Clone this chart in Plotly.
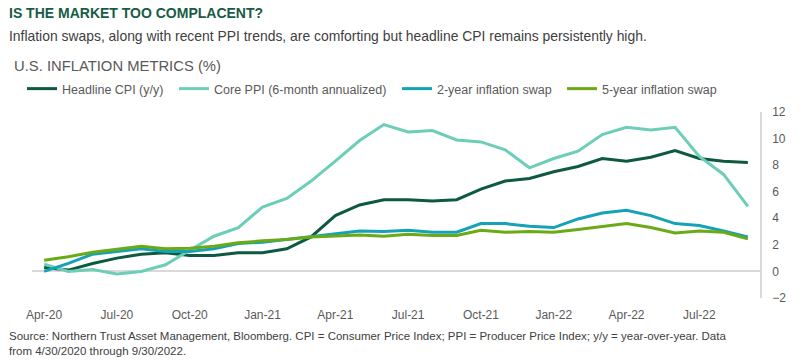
import plotly.graph_objects as go

months = ["Apr-20", "May-20", "Jun-20", "Jul-20", "Aug-20", "Sep-20", "Oct-20", "Nov-20", "Dec-20",
          "Jan-21", "Feb-21", "Mar-21", "Apr-21", "May-21", "Jun-21", "Jul-21", "Aug-21", "Sep-21",
          "Oct-21", "Nov-21", "Dec-21", "Jan-22", "Feb-22", "Mar-22", "Apr-22", "May-22", "Jun-22",
          "Jul-22", "Aug-22", "Sep-22"]

headline_cpi = [0.3, 0.1, 0.6, 1.0, 1.3, 1.4, 1.2, 1.2, 1.4, 1.4, 1.7, 2.6, 4.2, 5.0, 5.4, 5.4, 5.3, 5.4,
                6.2, 6.8, 7.0, 7.5, 7.9, 8.5, 8.3, 8.6, 9.1, 8.5, 8.3, 8.2]
core_ppi = [0.55, 0.0, 0.15, -0.2, 0.0, 0.5, 1.6, 2.65, 3.3, 4.85, 5.5, 6.8, 8.3, 9.85, 11.05, 10.5, 10.6,
            9.9, 9.75, 9.15, 7.8, 8.5, 9.05, 10.3, 10.85, 10.65, 10.85, 8.65, 7.3, 4.9]
swap_2y = [0.0, 0.6, 1.3, 1.5, 1.7, 1.5, 1.5, 1.7, 2.1, 2.2, 2.4, 2.65, 2.85, 3.05, 3.0, 3.1, 2.95, 2.95,
           3.6, 3.6, 3.4, 3.3, 3.95, 4.4, 4.6, 4.2, 3.6, 3.45, 3.05, 2.6]
swap_5y = [0.85, 1.1, 1.45, 1.7, 1.9, 1.7, 1.75, 1.9, 2.15, 2.3, 2.4, 2.6, 2.7, 2.75, 2.65, 2.8, 2.7, 2.7,
           3.1, 2.95, 3.0, 2.95, 3.15, 3.4, 3.6, 3.3, 2.9, 3.05, 2.95, 2.45]

x_ticks = ["Apr-20", "Jul-20", "Oct-20", "Jan-21", "Apr-21", "Jul-21", "Oct-21", "Jan-22", "Apr-22", "Jul-22"]
y_ticks = [-2, 0, 2, 4, 6, 8, 10, 12]

series = [
    ("Headline CPI (y/y)", headline_cpi, "#0d5a40"),
    ("Core PPI (6-month annualized)", core_ppi, "#6ccdb8"),
    ("2-year inflation swap", swap_2y, "#15a2b6"),
    ("5-year inflation swap", swap_5y, "#6aaa16"),
]

FONT = "Liberation Sans, Arial, sans-serif"
GRAY = "#595959"

W, H = 800, 363
ml, mr, mt, mb = 32, 40, 112, 65
pw = W - ml - mr
ph = H - mt - mb


def px(x):
    return (x - ml) / pw


def py(y):
    return (H - mb - y) / ph


legend_ids = ["legend", "legend2", "legend3", "legend4"]
legend_left = [22, 174, 397, 562]

fig = go.Figure()
for (name, vals, color), lid in zip(series, legend_ids):
    fig.add_trace(go.Scatter(x=months, y=vals, name=name, mode="lines", legend=lid,
                             line=dict(color=color, width=3)))

legend_layout = {}
for lid, lx in zip(legend_ids, legend_left):
    legend_layout[lid] = dict(orientation="h", x=px(lx), xanchor="left", y=py(89), yanchor="middle",
                              font=dict(size=12.5, color=GRAY, family=FONT), itemwidth=30,
                              bgcolor="rgba(0,0,0,0)")

fig.update_layout(
    width=W, height=H,
    margin=dict(l=ml, r=mr, t=mt, b=mb),
    paper_bgcolor="white", plot_bgcolor="white",
    font=dict(family=FONT, color=GRAY, size=12),
    showlegend=True,
    **legend_layout,
    xaxis=dict(type="category", categoryorder="array", categoryarray=months,
               range=[-0.5, len(months) - 0.5],
               tickmode="array", tickvals=x_ticks, ticktext=x_ticks,
               showgrid=False, showline=False, zeroline=False,
               ticks="outside", ticklen=6, tickcolor="rgba(0,0,0,0)",
               tickfont=dict(size=12, color=GRAY)),
    yaxis=dict(side="right", range=[-2, 12], tickmode="array", tickvals=y_ticks,
               showgrid=False, zeroline=True, zerolinecolor="#d9d9d9", zerolinewidth=1.5,
               showline=True, linecolor="#d9d9d9", linewidth=1.5,
               ticks="outside", ticklen=8, tickcolor="rgba(0,0,0,0)",
               tickfont=dict(size=12, color=GRAY)),
    annotations=[
        dict(text="<b>IS THE MARKET TOO COMPLACENT?</b>", xref="paper", yref="paper",
             x=px(7), y=py(13), xanchor="left", yanchor="middle", showarrow=False,
             font=dict(size=14, color="#175c44", family=FONT)),
        dict(text="Inflation swaps, along with recent PPI trends, are comforting but headline CPI remains persistently high.",
             xref="paper", yref="paper", x=px(7), y=py(36), xanchor="left", yanchor="middle",
             showarrow=False, font=dict(size=13.9, color="#404040", family=FONT)),
        dict(text="U.S. INFLATION METRICS (%)", xref="paper", yref="paper",
             x=px(12), y=py(66), xanchor="left", yanchor="middle", showarrow=False,
             font=dict(size=14.8, color=GRAY, family=FONT)),
        dict(text="Source: Northern Trust Asset Management, Bloomberg. CPI = Consumer Price Index; PPI = Producer Price Index; y/y = year-over-year. Data<br>from 4/30/2020 through 9/30/2022.",
             xref="paper", yref="paper", x=px(7), y=py(343), xanchor="left", yanchor="middle",
             align="left", showarrow=False, font=dict(size=11.5, color="#404040", family=FONT)),
    ],
)

fig.write_html("out.html", config={"displayModeBar": False})

with open("out.html", "r", encoding="utf-8") as f:
    html = f.read()
html = html.replace("<head>", "<head><style>html,body{margin:0;padding:0;overflow:hidden;}</style>", 1)
with open("out.html", "w", encoding="utf-8") as f:
    f.write(html)
